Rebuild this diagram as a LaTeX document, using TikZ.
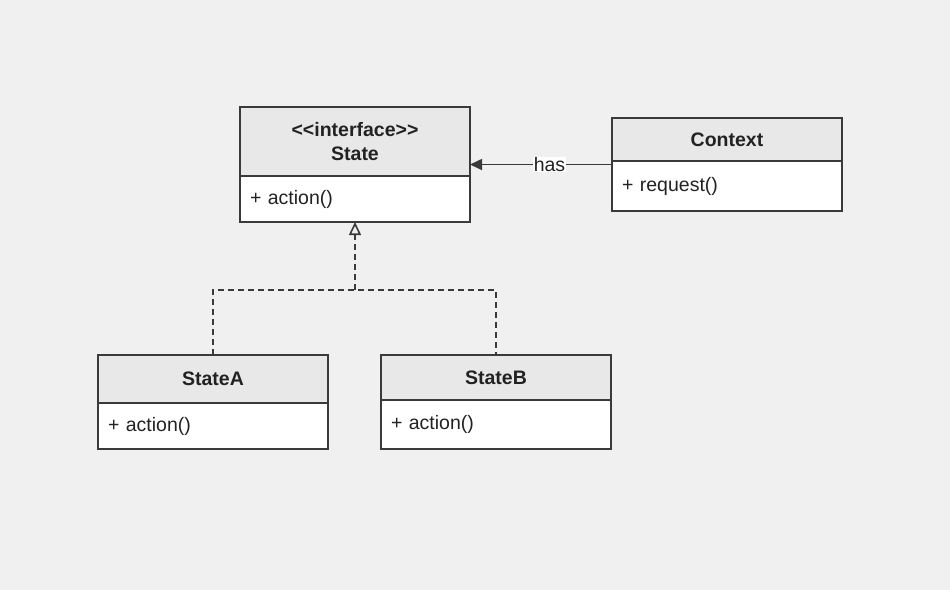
\documentclass[tikz,border=0pt]{standalone}
\usepackage{fontspec}
\setmainfont{Liberation Sans}
\usetikzlibrary{arrows.meta, calc, positioning}
\definecolor{bggray}{HTML}{F0F0F0}
\definecolor{headgray}{HTML}{E8E8E8}
\definecolor{linegray}{HTML}{3A3A3A}
\definecolor{textgray}{HTML}{222222}

\begin{document}
\begin{tikzpicture}[x=1pt, y=-1pt,
  head/.style = {draw=linegray, fill=headgray, line width=1.6pt, outer sep=0pt, anchor=north west,
    minimum width=230pt, align=center, text=textgray, font=\bfseries\fontsize{19.5}{24}\selectfont},
  body/.style = {draw=linegray, fill=white, line width=1.6pt, outer sep=0pt, minimum width=230pt,
    inner xsep=10pt, text width=210pt, align=left, text=textgray, font=\fontsize{19.5}{24}\selectfont},
  conn/.style = {draw=linegray, line width=1.6pt},
  gen/.style = {conn, dash pattern=on 6pt off 4pt}]
\fill[bggray] (0,0) rectangle (950,590);

\node[head, minimum height=69pt] (statehead) at (240,107) {<\kern0pt<interface>\kern0pt>\\State};
\node[body, minimum height=46pt] (statebody) [below=0pt of statehead] {+ action()};
\node[head, minimum height=43pt] (ctxhead) at (612,118) {Context};
\node[body, minimum height=50pt] (ctxbody) [below=0pt of ctxhead] {+ request()};
\node[head, minimum height=48pt] (ahead) at (98,355) {StateA};
\node[body, minimum height=46pt] (abody) [below=0pt of ahead] {+ action()};
\node[head, minimum height=45pt] (bhead) at (381,355) {StateB};
\node[body, minimum height=49pt] (bbody) [below=0pt of bhead] {+ action()};

\coordinate (ctxmid) at ($(ctxhead.north west)!0.5!(ctxbody.south west)$);
\coordinate (join) at (355,290);

\draw[conn, -{Triangle[length=12pt,width=11pt]}] (ctxmid) --
  node[pos=0.44, fill=white, inner sep=0.5pt, text=textgray, font=\fontsize{19.5}{24}\selectfont] {has}
  (ctxmid -| statehead.east);
\draw[gen] (ahead.north) |- (join) -| (bhead.north);
\draw[gen, -{Triangle[open, length=13pt, width=12pt]}] (join) -- (statebody.south);
\end{tikzpicture}
\end{document}
